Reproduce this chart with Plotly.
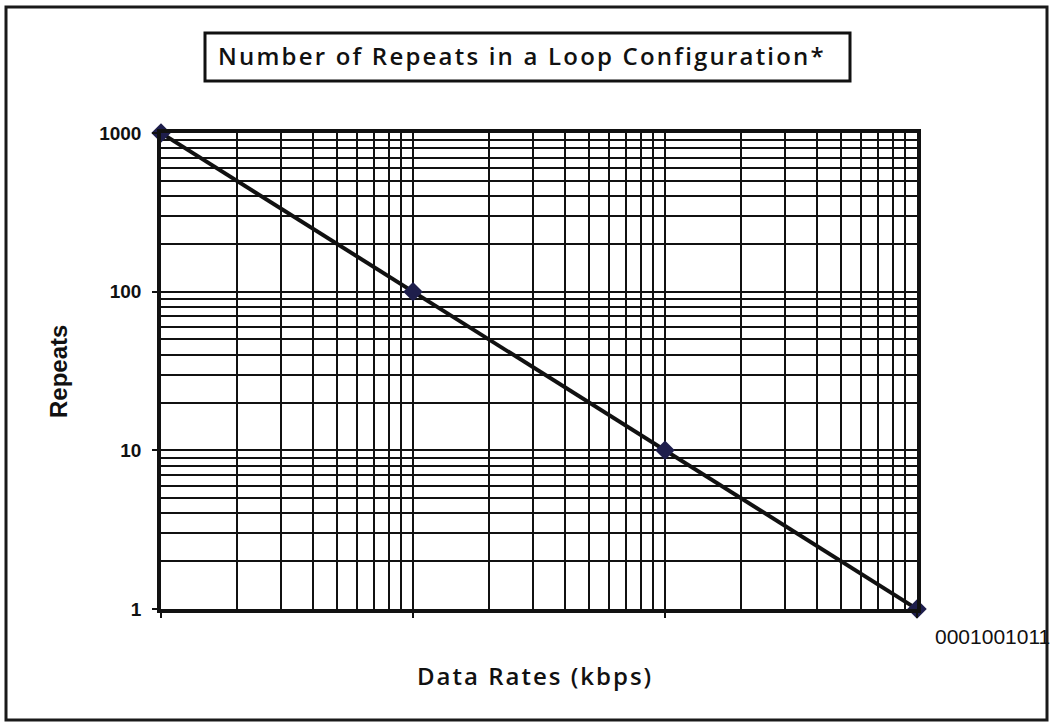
import plotly.graph_objects as go

# Data
data_rates = [1, 10, 100, 1000]
repeats = [1000, 100, 10, 1]
y_tickvals = [1, 10, 100, 1000]
y_ticktext = ["1", "10", "100", "1000"]
x_label_text = "0001001011"
title_text = "Number of Repeats in a Loop Configuration*"
x_title_text = "Data Rates (kbps)"
y_title_text = "Repeats"

W, H = 1053, 726
L, R, T, B = 161, 917, 133, 609


def px(x):
    return (x - L) / (R - L)


def py(y):
    return (B - y) / (B - T)


fig = go.Figure()
fig.add_trace(go.Scatter(
    x=data_rates, y=repeats, mode="lines+markers",
    line=dict(color="#111111", width=4),
    marker=dict(symbol="diamond", size=15, color="#1e1e4c"),
    cliponaxis=False, showlegend=False,
))

axis_common = dict(
    type="log", range=[0, 3],
    showgrid=True, gridcolor="#111111", gridwidth=1.5,
    showline=True, linecolor="#111111", linewidth=3.5, mirror=True,
    ticks="outside", ticklen=5, tickcolor="#111111", tickwidth=1.5,
    minor=dict(dtick="D1", showgrid=True, gridcolor="#111111", gridwidth=1.5, ticks=""),
    zeroline=False,
)

fig.update_xaxes(**axis_common, tickvals=data_rates, showticklabels=False)
fig.update_yaxes(**axis_common, tickvals=y_tickvals, ticktext=y_ticktext,
                 tickfont=dict(family="Liberation Sans, Arial", size=19, color="#111111",
                               weight="bold"),
                 ticklabelstandoff=7)

fig.update_layout(
    width=W, height=H,
    margin=dict(l=L, r=W - R, t=T, b=H - B),
    paper_bgcolor="white", plot_bgcolor="white",
    shapes=[
        dict(type="rect", xref="paper", yref="paper",
             x0=px(6), x1=px(1047), y0=py(720), y1=py(7),
             line=dict(color="#1a1a1a", width=3), fillcolor="rgba(0,0,0,0)", layer="below"),
        dict(type="rect", xref="paper", yref="paper",
             x0=px(205), x1=px(850), y0=py(81), y1=py(33),
             line=dict(color="#111111", width=3), fillcolor="white", layer="below"),
    ],
    annotations=[
        dict(text='<span style="letter-spacing:2.2px">' + title_text + '</span>',
             xref="paper", yref="paper",
             x=px(522), y=py(56), xanchor="center", yanchor="middle", showarrow=False,
             font=dict(family="Open Sans", size=24, color="#111111", weight=600)),
        dict(text='<span style="letter-spacing:2px">' + x_title_text + '</span>',
             xref="paper", yref="paper",
             x=px(535), y=py(675), xanchor="center", yanchor="middle", showarrow=False,
             font=dict(family="Open Sans", size=24, color="#111111", weight=600)),
        dict(text="<b>" + y_title_text + "</b>", xref="paper", yref="paper",
             x=px(58), y=py(372), xanchor="center", yanchor="middle", showarrow=False,
             textangle=-90,
             font=dict(family="Liberation Sans, Arial", size=24, color="#111111")),
        dict(text=x_label_text, xref="paper", yref="paper",
             x=px(933), y=py(636), xanchor="left", yanchor="middle", showarrow=False,
             font=dict(family="Liberation Sans, Arial", size=21, color="#111111")),
    ],
)

fig.write_html("out.html")
